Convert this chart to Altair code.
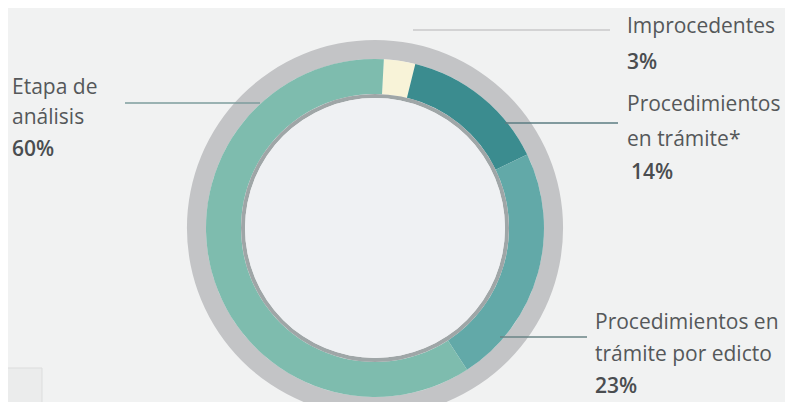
import altair as alt
import pandas as pd
import math

# ---- data ----
categories = ["Improcedentes", "Procedimientos en trámite*", "Procedimientos en trámite por edicto", "Etapa de análisis"]
values = [3, 14, 23, 60]
order = [1, 2, 3, 4]

# ---- styles / layout ----
colors = ["#f8f3d8", "#3b8c8f", "#62a9a8", "#7ebcae"]
W, H = 777, 394
OFF = 8  # page margin, reference coords -> chart coords
cx, cy = 375 - OFF, 228 - OFF
start = math.radians(3)
FULL = 2 * math.pi

df = pd.DataFrame({"cat": categories, "value": values, "order": order})

ring = alt.Chart(df).mark_arc(outerRadius=169, innerRadius=134, stroke=None).encode(
    theta=alt.Theta("value:Q", stack=True, scale=alt.Scale(range=[start, start + FULL])),
    order=alt.Order("order:Q"),
    color=alt.Color("cat:N", scale=alt.Scale(domain=categories, range=colors), legend=None),
    x=alt.value(cx), y=alt.value(cy),
)

base = alt.Chart(pd.DataFrame({"v": [1]}))
def full_ring(r_out, r_in, col):
    return base.mark_arc(outerRadius=r_out, innerRadius=r_in, color=col).encode(
        theta=alt.value(0), theta2=alt.value(FULL), x=alt.value(cx), y=alt.value(cy))

outer = full_ring(188, 169, "#c3c4c6")
thin = full_ring(134, 130, "#9fa6a7")
inner = full_ring(130, 0, "#eff1f3")

# leader lines (layout)
lines = pd.DataFrame({
    "x": [125, 413, 505, 500],
    "x2": [260, 610, 618, 587],
    "y": [103, 30, 123, 337],
    "c": ["#7d9c9c", "#c8c9ca", "#5b7c82", "#6a8486"],
})
lines[["x", "x2", "y"]] -= OFF
xs = alt.Scale(domain=[0, W], range=[0, W])
ys = alt.Scale(domain=[0, H], range=[0, H])
rules = alt.Chart(lines).mark_rule(strokeWidth=1.5).encode(
    x=alt.X("x:Q", scale=xs, axis=None), x2="x2:Q",
    y=alt.Y("y:Q", scale=ys, axis=None),
    color=alt.Color("c:N", scale=None),
)

# label texts
label_text = ["Etapa de", "análisis", "60%",
              "Improcedentes", "3%",
              "Procedimientos", "en trámite*", "14%",
              "Procedimientos  en", "trámite por edicto", "23%"]
label_x = [12, 12, 12, 627, 627, 627, 627, 631, 595, 595, 595]
label_y = [88, 118, 150, 27, 63, 105, 140, 173, 323, 355, 387]
label_bold = [0, 0, 1, 0, 1, 0, 0, 1, 0, 0, 1]
labels = pd.DataFrame({"t": label_text, "x": [v - OFF for v in label_x],
                       "y": [v - OFF for v in label_y], "b": label_bold})

txt_norm = alt.Chart(labels[labels.b == 0]).mark_text(
    align="left", baseline="middle", font="Open Sans", fontSize=21, color="#55585a"
).encode(x=alt.X("x:Q", scale=xs, axis=None), y=alt.Y("y:Q", scale=ys, axis=None), text="t:N")
txt_bold = alt.Chart(labels[labels.b == 1]).mark_text(
    align="left", baseline="middle", font="Open Sans", fontSize=21, fontWeight=600, color="#4a4d50"
).encode(x=alt.X("x:Q", scale=xs, axis=None), y=alt.Y("y:Q", scale=ys, axis=None), text="t:N")

# partial box bottom-left
box = alt.Chart(pd.DataFrame({"x": [-10], "x2": [34], "y": [360], "y2": [400]})).mark_rect(
    fill="#ebecec", stroke="#dcdddd").encode(
    x=alt.X("x:Q", scale=xs, axis=None), x2="x2:Q",
    y=alt.Y("y:Q", scale=ys, axis=None), y2="y2:Q")

chart = alt.layer(box, outer, ring, thin, inner, rules, txt_norm, txt_bold).properties(
    width=W, height=H, background="#f1f2f2", padding=0,
    autosize=alt.AutoSizeParams(type="none"),
).configure_view(stroke=None)

chart.save("out.html", embed_options={"renderer": "svg", "actions": False})
